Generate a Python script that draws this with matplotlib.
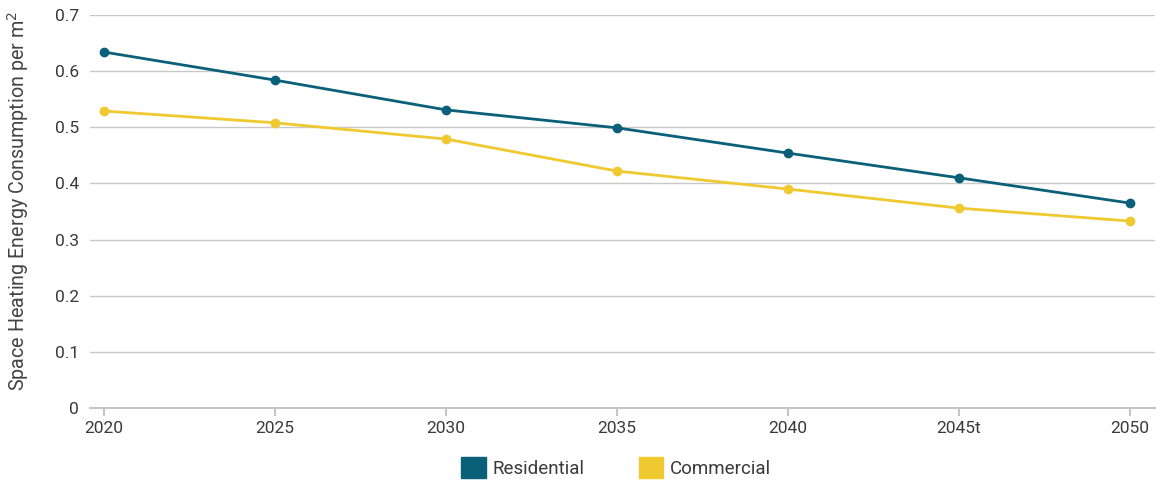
import matplotlib.pyplot as plt
from matplotlib.patches import Patch

plt.rcParams['font.family'] = ['Roboto', 'DejaVu Sans']

years = ['2020', '2025', '2030', '2035', '2040', '2045t', '2050']
residential = [0.634, 0.584, 0.531, 0.499, 0.454, 0.410, 0.365]
commercial = [0.529, 0.508, 0.479, 0.422, 0.390, 0.356, 0.333]

teal = '#0b6079'
yellow = '#efc92f'
text_col = '#3a3a3a'

fig = plt.figure(figsize=(11.6, 4.82), dpi=100)
ax = fig.add_axes([0.0776, 0.1535, 0.918, 0.8154])

x = range(len(years))
ax.plot(x, residential, color=teal, lw=2, marker='o', ms=6, zorder=3)
ax.plot(x, commercial, color=yellow, lw=2, marker='o', ms=6, zorder=3)

ax.set_ylim(0, 0.7)
ax.set_xlim(-0.082, 6.146)
ax.set_yticks([0, 0.1, 0.2, 0.3, 0.4, 0.5, 0.6, 0.7])
ax.set_yticklabels(['0', '0.1', '0.2', '0.3', '0.4', '0.5', '0.6', '0.7'])
ax.set_xticks(list(x))
ax.set_xticklabels(years)

ax.grid(axis='y', color='#c8c8c8', lw=1)
ax.set_axisbelow(True)
for side in ['top', 'right', 'left']:
    ax.spines[side].set_visible(False)
ax.spines['bottom'].set_color('#c4c4c4')
ax.spines['bottom'].set_linewidth(1.5)
ax.tick_params(axis='x', length=6, color='#c4c4c4', width=1.5,
               labelsize=12.5, labelcolor=text_col, pad=3)
ax.tick_params(axis='y', length=0, labelsize=12.5, labelcolor=text_col, pad=8)

fig.text(0.0155, 0.583, 'Space Heating Energy Consumption per m$^2$',
         rotation=90, ha='center', va='center', fontsize=14.2,
         color='#444444')

handles = [Patch(color=teal, label='Residential'),
           Patch(color=yellow, label='Commercial')]
fig.legend(handles=handles, loc='center', bbox_to_anchor=(0.531, 0.03),
           ncol=2, frameon=False, fontsize=13.5, handlelength=1.3,
           handleheight=1.3, columnspacing=2.9, handletextpad=0.35,
           labelcolor=text_col)

fig.savefig('out.png', dpi=100)
